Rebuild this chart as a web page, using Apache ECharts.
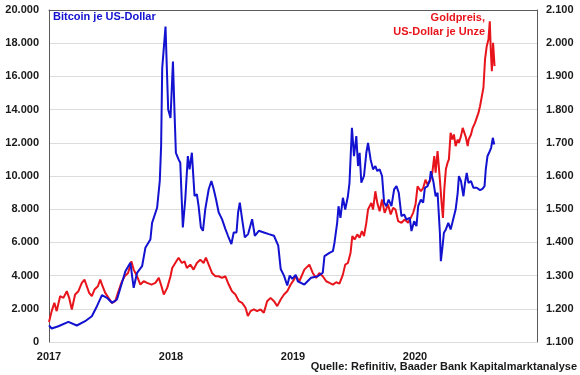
<!DOCTYPE html>
<html>
<head>
<meta charset="utf-8">
<script src="https://cdn.jsdelivr.net/npm/echarts@6/dist/echarts.min.js"></script>
<style>
  html, body { margin: 0; padding: 0; background: #ffffff; }
  #chart { width: 580px; height: 375px; }
</style>
</head>
<body>
<div id="chart"></div>
<script>
// Time values are decimal years
var yearTicks = [2017, 2018, 2019, 2020];

var btcTime = [2017.000, 2017.022, 2017.077, 2017.159, 2017.228, 2017.296, 2017.351, 2017.393, 2017.434, 2017.475,
  2017.516, 2017.557, 2017.598, 2017.626, 2017.667, 2017.694, 2017.722, 2017.763, 2017.790, 2017.831,
  2017.845, 2017.886, 2017.908, 2017.919, 2017.928, 2017.941, 2017.955, 2017.969, 2017.977, 2017.996,
  2018.016, 2018.029, 2018.040, 2018.062, 2018.076, 2018.097, 2018.117, 2018.138, 2018.152, 2018.171,
  2018.193, 2018.212, 2018.226, 2018.245, 2018.262, 2018.281, 2018.309, 2018.331, 2018.350, 2018.369,
  2018.391, 2018.418, 2018.446, 2018.467, 2018.495, 2018.514, 2018.537, 2018.550, 2018.564, 2018.583,
  2018.605, 2018.632, 2018.665, 2018.687, 2018.720, 2018.761, 2018.802, 2018.844, 2018.858, 2018.879,
  2018.899, 2018.926, 2018.953, 2018.973, 2018.994, 2019.022, 2019.039, 2019.093, 2019.148, 2019.203,
  2019.244, 2019.258, 2019.299, 2019.327, 2019.340, 2019.362, 2019.373, 2019.389, 2019.409, 2019.428,
  2019.450, 2019.463, 2019.483, 2019.500, 2019.519, 2019.533, 2019.546, 2019.560, 2019.582, 2019.601,
  2019.615, 2019.636, 2019.656, 2019.675, 2019.691, 2019.710, 2019.730, 2019.747, 2019.765, 2019.784,
  2019.807, 2019.829, 2019.848, 2019.867, 2019.889, 2019.911, 2019.930, 2019.957, 2019.971, 2019.993,
  2020.012, 2020.026, 2020.048, 2020.067, 2020.081, 2020.103, 2020.122, 2020.130, 2020.150, 2020.169,
  2020.185, 2020.204, 2020.212, 2020.226, 2020.237, 2020.253, 2020.273, 2020.292, 2020.306, 2020.319,
  2020.333, 2020.350, 2020.360, 2020.377, 2020.397, 2020.410, 2020.424, 2020.438, 2020.459, 2020.479,
  2020.506, 2020.533, 2020.553, 2020.570, 2020.580, 2020.594, 2020.607, 2020.624, 2020.638, 2020.649];

var btcValue = [1000, 813, 950, 1216, 994, 1253, 1554, 2157, 2820, 2662,
  2361, 2560, 3566, 4265, 4771, 3265, 4168, 4566, 5674, 6175,
  7180, 8084, 9700, 11800, 16500, 16600, 19000, 15800, 14000, 13500,
  16900, 13800, 11400, 11000, 10800, 6900, 8600, 11200, 10400, 11400,
  8800, 8900, 8200, 6900, 6700, 8000, 9200, 9700, 9200, 8600,
  7800, 7400, 6800, 6400, 5900, 6600, 6600, 7800, 8400, 7400,
  6300, 6500, 7400, 6400, 6700, 6600, 6500, 6400, 6500, 5800,
  4400, 4000, 3400, 4000, 3800, 4050, 3660, 3460, 3870, 3960,
  4170, 5170, 5370, 5470, 5980, 7180, 8180, 7480, 8690, 7980,
  8780, 9590, 12900, 11200, 12400, 10600, 11400, 9600, 10000, 11400,
  12000, 11000, 10400, 10600, 10300, 10400, 10000, 8400, 8180, 8580,
  8180, 9190, 9390, 8990, 7580, 7680, 7380, 7480, 6680, 7280,
  6980, 8180, 8580, 8390, 9290, 9390, 9790, 10290, 9690, 8780,
  8990, 6580, 4870, 5770, 6580, 6780, 7180, 6780, 7180, 7280,
  7980, 8990, 9990, 9690, 8780, 9590, 10190, 9590, 9690, 9290,
  9290, 9150, 9230, 9390, 10390, 11190, 11400, 11700, 12300, 11900];

var goldTime = [2017.000, 2017.022, 2017.044, 2017.063, 2017.091, 2017.118, 2017.146, 2017.165, 2017.187, 2017.214,
  2017.241, 2017.269, 2017.291, 2017.310, 2017.329, 2017.351, 2017.373, 2017.401, 2017.420, 2017.439,
  2017.461, 2017.488, 2017.516, 2017.543, 2017.565, 2017.593, 2017.620, 2017.648, 2017.675, 2017.694,
  2017.722, 2017.749, 2017.776, 2017.804, 2017.840, 2017.872, 2017.900, 2017.922, 2017.941, 2017.969,
  2017.996, 2018.010, 2018.035, 2018.062, 2018.089, 2018.111, 2018.130, 2018.158, 2018.185, 2018.212,
  2018.240, 2018.267, 2018.286, 2018.309, 2018.336, 2018.364, 2018.391, 2018.418, 2018.446, 2018.473,
  2018.500, 2018.528, 2018.556, 2018.583, 2018.611, 2018.630, 2018.652, 2018.679, 2018.706, 2018.734,
  2018.761, 2018.788, 2018.816, 2018.844, 2018.871, 2018.899, 2018.926, 2018.953, 2018.981, 2019.008,
  2019.025, 2019.052, 2019.093, 2019.134, 2019.162, 2019.189, 2019.216, 2019.244, 2019.272, 2019.299,
  2019.327, 2019.354, 2019.381, 2019.409, 2019.428, 2019.450, 2019.472, 2019.486, 2019.505, 2019.527,
  2019.546, 2019.565, 2019.582, 2019.601, 2019.615, 2019.642, 2019.656, 2019.675, 2019.691, 2019.710,
  2019.730, 2019.751, 2019.779, 2019.801, 2019.821, 2019.840, 2019.862, 2019.889, 2019.916, 2019.944,
  2019.965, 2019.985, 2020.004, 2020.021, 2020.031, 2020.048, 2020.067, 2020.086, 2020.103, 2020.122,
  2020.142, 2020.158, 2020.169, 2020.185, 2020.196, 2020.204, 2020.218, 2020.229, 2020.240, 2020.253,
  2020.267, 2020.278, 2020.292, 2020.306, 2020.319, 2020.333, 2020.350, 2020.360, 2020.377, 2020.391,
  2020.405, 2020.418, 2020.432, 2020.440, 2020.459, 2020.473, 2020.492, 2020.506, 2020.520, 2020.533,
  2020.547, 2020.561, 2020.574, 2020.588, 2020.602, 2020.613, 2020.621, 2020.630, 2020.640, 2020.652];

var goldValue = [1160, 1193, 1218, 1193, 1238, 1233, 1253, 1233, 1198, 1243,
  1253, 1278, 1288, 1268, 1248, 1238, 1258, 1268, 1288, 1268,
  1248, 1233, 1218, 1223, 1248, 1278, 1298, 1308, 1343, 1318,
  1298, 1273, 1283, 1278, 1273, 1278, 1293, 1268, 1243, 1263,
  1298, 1323, 1338, 1354, 1338, 1343, 1323, 1333, 1318, 1338,
  1348, 1338, 1354, 1333, 1308, 1298, 1298, 1293, 1298, 1273,
  1253, 1243, 1223, 1218, 1203, 1178, 1193, 1198, 1193, 1198,
  1188, 1223, 1233, 1223, 1208, 1228, 1243, 1253, 1273, 1288,
  1298, 1283, 1318, 1333, 1308, 1293, 1308, 1298, 1283, 1278,
  1273, 1280, 1276, 1303, 1333, 1338, 1369, 1419, 1409, 1424,
  1414, 1434, 1419, 1459, 1499, 1519, 1499, 1554, 1519, 1494,
  1529, 1489, 1514, 1484, 1504, 1499, 1464, 1459, 1469, 1459,
  1474, 1489, 1514, 1569, 1574, 1554, 1564, 1589, 1574, 1584,
  1610, 1660, 1610, 1675, 1680, 1589, 1519, 1474, 1559, 1620,
  1640, 1650, 1730, 1710, 1725, 1690, 1710, 1700, 1720, 1745,
  1730, 1715, 1690, 1710, 1725, 1745, 1760, 1775, 1790, 1810,
  1805, 1866, 1951, 1991, 2011, 2066, 1981, 1916, 2001, 1931];

var btcLabel = 'Bitcoin je US-Dollar';
var goldLabel = 'Goldpreis,\nUS-Dollar je Unze';
var sourceLabel = 'Quelle: Refinitiv, Baader Bank Kapitalmarktanalyse';

var BLUE = '#1212d0';
var RED = '#e8141c';
var FONT = '"Liberation Sans", Arial, sans-serif';

function pairs(t, v) { return t.map(function (x, i) { return [x, v[i]]; }); }
function dotFmt(v) { return String(Math.round(v)).replace(/\B(?=(\d{3})+(?!\d))/g, '.'); }

var chart = echarts.init(document.getElementById('chart'), null, { renderer: 'canvas' });
chart.setOption({
  animation: false,
  backgroundColor: '#ffffff',
  grid: { left: 49, right: 43, top: 10, bottom: 33 },
  xAxis: [{
    type: 'value', min: 2017, max: 2021, interval: 1,
    axisLine: { show: false }, axisTick: { show: false }, splitLine: { show: false },
    axisLabel: { showMaxLabel: false, margin: 9, color: '#1a1a1a', fontFamily: FONT, fontWeight: 'bold', fontSize: 11,
      formatter: function (v) { return yearTicks.indexOf(v) >= 0 ? String(v) : ''; } }
  }, {
    type: 'value', min: 2017, max: 2021, position: 'top',
    axisLine: { show: true, lineStyle: { color: '#5a5a5a', width: 1 } },
    axisTick: { show: false }, axisLabel: { show: false }, splitLine: { show: false }
  }],
  yAxis: [{
    type: 'value', min: 0, max: 20000, interval: 2000, position: 'left',
    axisLine: { show: true, lineStyle: { color: '#5a5a5a', width: 1 } },
    axisTick: { show: false },
    splitLine: { show: true, lineStyle: { color: '#dcdcdc', width: 1 } },
    axisLabel: { margin: 10, color: '#1a1a1a', fontFamily: FONT, fontWeight: 'bold', fontSize: 11, formatter: dotFmt }
  }, {
    type: 'value', min: 1100, max: 2100, interval: 100, position: 'right',
    axisLine: { show: true, lineStyle: { color: '#5a5a5a', width: 1 } },
    axisTick: { show: false }, splitLine: { show: false },
    axisLabel: { margin: 9, color: '#1a1a1a', fontFamily: FONT, fontWeight: 'bold', fontSize: 11, formatter: dotFmt }
  }],
  series: [{
    name: 'Gold', type: 'line', xAxisIndex: 0, yAxisIndex: 1, data: pairs(goldTime, goldValue),
    showSymbol: false, lineStyle: { color: RED, width: 2 }, z: 2
  }, {
    name: 'Bitcoin', type: 'line', xAxisIndex: 0, yAxisIndex: 0, data: pairs(btcTime, btcValue),
    showSymbol: false, lineStyle: { color: BLUE, width: 2 }, z: 3
  }],
  graphic: [{
    type: 'text', left: 53, top: 11,
    style: { text: btcLabel, fill: BLUE, font: 'bold 11px ' + FONT }
  }, {
    type: 'text', right: 95, top: 11,
    style: { text: goldLabel, fill: RED, font: 'bold 11px ' + FONT, textAlign: 'right', lineHeight: 14 }
  }, {
    type: 'text', right: 3, top: 361,
    style: { text: sourceLabel, fill: '#1a1a1a', font: 'bold 11px ' + FONT }
  }]
});
</script>
</body>
</html>
